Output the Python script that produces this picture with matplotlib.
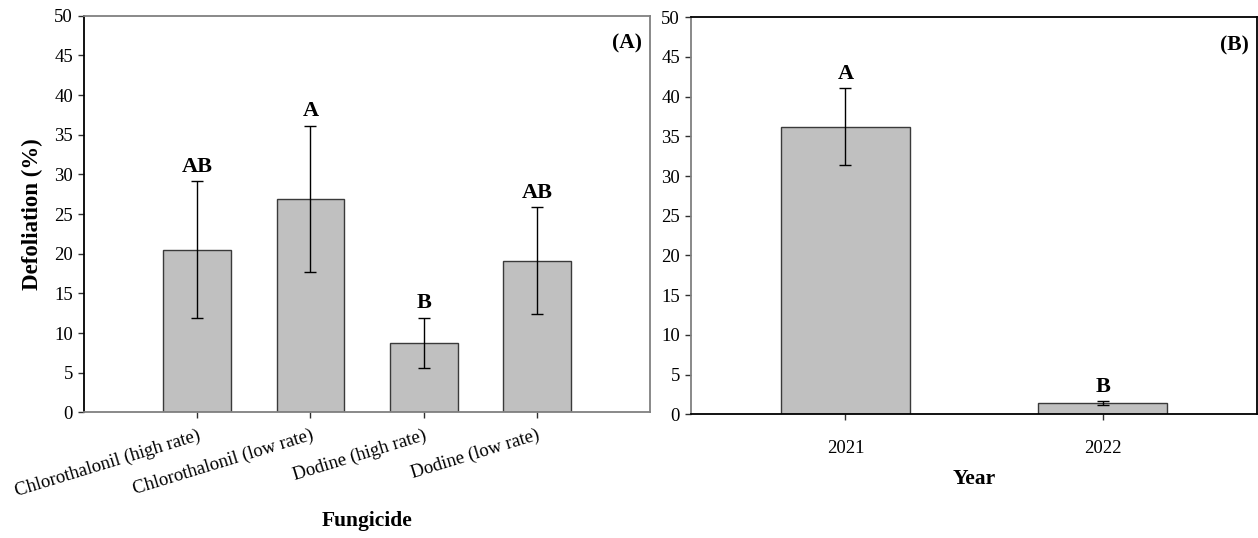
import numpy as np
import matplotlib
matplotlib.use("Agg")
import matplotlib.pyplot as plt

plt.rcParams["font.family"] = ["Liberation Serif", "DejaVu Serif"]

# panel A: defoliation by fungicide
fungicides = ["Chlorothalonil (high rate)", "Chlorothalonil (low rate)",
              "Dodine (high rate)", "Dodine (low rate)"]
fung_mean = [20.5, 26.9, 8.75, 19.1]
fung_err = [8.65, 9.25, 3.2, 6.75]
fung_letters = ["AB", "A", "B", "AB"]

# panel B: defoliation by year
years = ["2021", "2022"]
year_mean = [36.2, 1.4]
year_err = [4.85, 0.28]
year_letters = ["A", "B"]

BAR_FC = "#c0c0c0"
BAR_EC = "#3a3a3a"
GREY = "#808080"


def style_axes(ax, dark, light):
    for side in dark:
        ax.spines[side].set_color("black")
    for side in light:
        ax.spines[side].set_color(GREY)
    for s in ax.spines.values():
        s.set_linewidth(1.3)
    ax.set_ylim(0, 50)
    ax.set_yticks(np.arange(0, 51, 5))
    ax.tick_params(axis="both", direction="out", length=4.5, width=1.0,
                   color="#303030", labelsize=13.5, labelcolor="black")


def draw_bars(ax, x, means, errs, letters, width):
    ax.bar(x, means, width=width, color=BAR_FC, edgecolor=BAR_EC, linewidth=1.0, zorder=2)
    ax.errorbar(x, means, yerr=errs, fmt="none", ecolor="black", elinewidth=1.0,
                capsize=4.6, capthick=1.0, zorder=3)
    for xi, m, e, lab in zip(x, means, errs, letters):
        ax.annotate(lab, (xi, m + e), xytext=(0, 3), textcoords="offset points",
                    ha="center", va="bottom", fontsize=16, fontweight="bold")


fig = plt.figure(figsize=(12.58, 5.38), dpi=100)
axA = fig.add_axes([0.0668, 0.2336, 0.450, 0.737])
axB = fig.add_axes([0.5493, 0.2300, 0.450, 0.738])

# (A)
xa = np.arange(len(fungicides))
draw_bars(axA, xa, fung_mean, fung_err, fung_letters, 0.6)
style_axes(axA, dark=["left"], light=["top", "right", "bottom"])
axA.set_xlim(-1.0, 4.0)
axA.set_xticks(xa)
axA.set_xticklabels(fungicides, rotation=17, ha="right", rotation_mode="anchor")
axA.tick_params(axis="x", pad=6)
axA.set_ylabel("Defoliation (%)", fontsize=16.5, fontweight="bold", labelpad=8)
axA.set_xlabel("Fungicide", fontsize=15.5, fontweight="bold", labelpad=8)
axA.text(0.985, 0.955, "(A)", transform=axA.transAxes, ha="right", va="top",
         fontsize=15.5, fontweight="bold")

# (B)
xb = np.arange(len(years))
draw_bars(axB, xb, year_mean, year_err, year_letters, 0.5)
style_axes(axB, dark=["top", "right", "bottom"], light=["left"])
axB.set_xlim(-0.6, 1.6)
axB.set_xticks(xb)
axB.set_xticklabels(years)
axB.tick_params(axis="x", pad=14)
axB.set_xlabel("Year", fontsize=15.5, fontweight="bold", labelpad=9)
axB.text(0.985, 0.955, "(B)", transform=axB.transAxes, ha="right", va="top",
         fontsize=15.5, fontweight="bold")

fig.savefig("out.png", dpi=100)
